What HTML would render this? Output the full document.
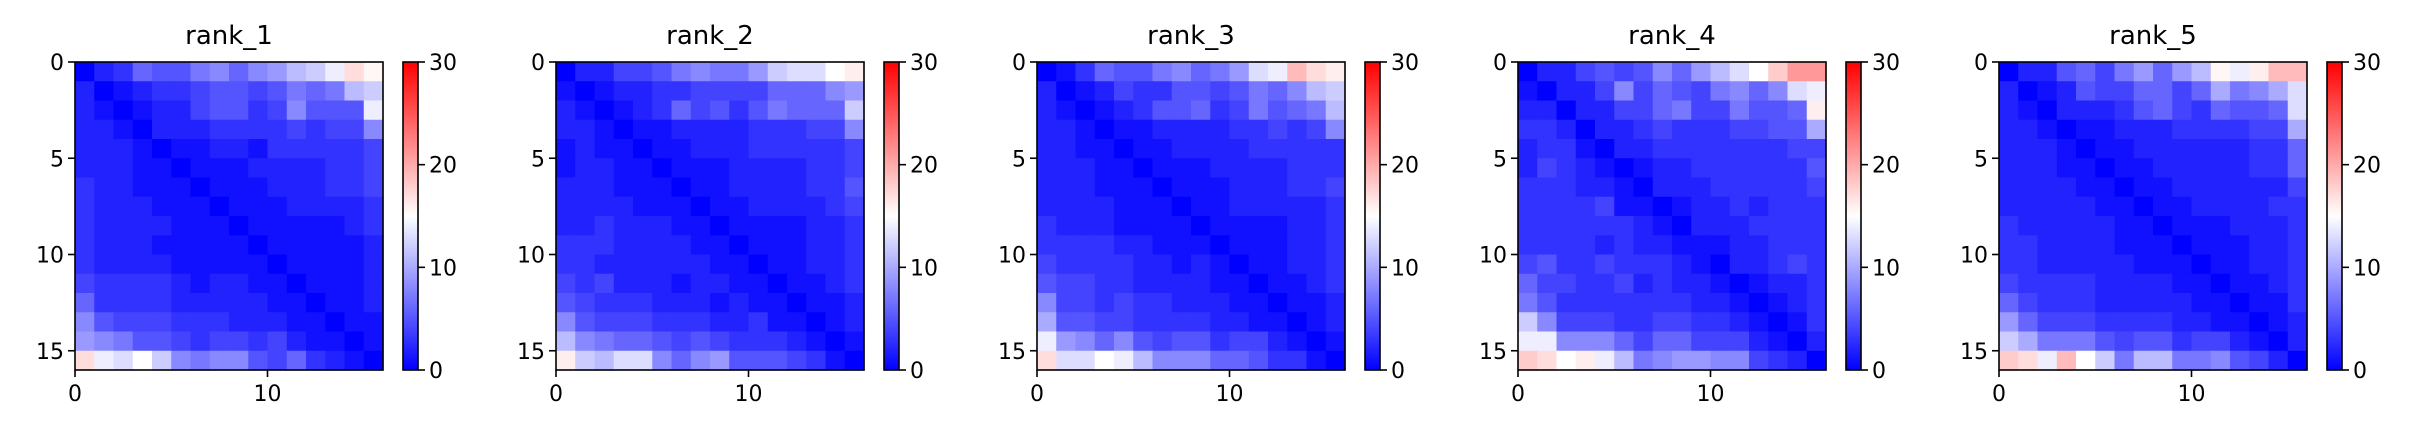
<!DOCTYPE html>
<html><head><meta charset="utf-8">
<style>
html,body{margin:0;padding:0;background:#fff;}
svg{display:block;font-family:"DejaVu Sans","Liberation Sans",sans-serif;}
</style></head>
<body>
<svg id="chart" width="2417" height="438" viewBox="0 0 2417 438" xmlns="http://www.w3.org/2000/svg"></svg>
<script>
const titles = ["rank_1","rank_2","rank_3","rank_4","rank_5"];
const axisTicks = [0,5,10,15];
const xTicks = [0,10];
const cbarTicks = [0,10,20,30];
const vmin = 0, vmax = 30, nCells = 16;
const rank1 = [
[0,2,3,6,5,5,7,8,6,8,9,11,12,14,17,15.5],
[2,0,1,2,3,3,4,5,5,4,5,7,6,7,11,12],
[2,1,0,1,2,2,4,5,5,3,4,8,5,5,5,14],
[2,2,1,0,2,2,2,3,3,3,3,4,3,4,4,8],
[2,2,2,1,0,1,1,2,2,1,3,3,3,3,3,4],
[2,2,2,1,1,0,1,1,1,2,2,2,2,3,3,4],
[3,2,2,1,1,1,0,1,1,1,2,2,2,3,3,4],
[3,2,2,2,1,1,1,0,1,1,1,2,2,2,2,3],
[3,2,2,2,2,1,1,1,0,1,1,1,1,1,2,3],
[3,2,2,2,1,1,1,1,1,0,1,1,1,1,1,2],
[3,2,2,2,2,1,1,1,1,1,0,1,1,1,1,2],
[4,3,3,3,3,2,1,2,2,1,1,0,1,1,1,2],
[6,3,3,3,3,2,2,2,2,2,1,1,0,1,1,2],
[8,5,4,4,4,3,3,3,2,2,2,1,1,0,1,1],
[9,8,7,5,5,4,3,4,4,3,4,2,1,1,0,1],
[17,14,13,15,12,8,7,8,8,5,4,6,3,2,1,0]];
const rank2 = [
[0,2,2,4,4,5,7,8,7,7,9,12,13,13,15,16],
[1,0,1,2,2,3,3,4,4,4,4,6,6,6,8,9],
[2,1,0,1,2,3,6,4,5,3,5,7,6,6,6,12],
[2,2,1,0,1,1,2,2,2,2,3,3,3,4,4,8],
[1,2,1,1,0,1,1,2,2,2,3,3,3,3,3,4],
[1,2,2,1,1,0,1,1,1,2,2,2,2,3,3,4],
[2,2,2,1,1,1,0,1,1,2,2,2,2,3,3,5],
[2,2,2,2,1,1,1,0,1,1,2,2,2,2,3,4],
[2,2,3,2,2,2,1,1,0,1,1,1,1,2,2,3],
[3,3,3,2,2,2,2,1,1,0,1,1,1,2,2,3],
[3,3,2,2,2,2,2,2,1,1,0,1,1,2,2,3],
[4,3,4,2,2,2,1,2,2,1,1,0,1,1,2,3],
[5,4,3,3,3,2,2,2,1,2,1,1,0,1,1,2],
[8,5,4,4,4,3,3,3,2,2,3,1,1,0,1,2],
[11,8,7,6,6,5,4,5,4,3,3,3,2,1,0,1],
[16,12,11,13,13,8,6,8,9,5,5,5,4,3,1,0]];
const rank3 = [
[0,1,3,6,5,5,7,8,6,7,9,13,14,19,17,16],
[2,0,1,2,4,3,3,5,5,4,5,7,6,8,11,12],
[2,1,0,1,2,3,5,5,6,3,4,7,5,6,7,11],
[2,2,1,0,1,1,2,2,2,2,3,3,4,3,4,8],
[2,2,1,1,0,1,1,2,2,2,2,3,3,3,3,3],
[2,2,2,1,1,0,1,1,1,2,2,2,2,3,3,3],
[2,2,2,1,1,1,0,1,1,1,2,2,2,3,3,4],
[2,2,2,2,1,1,1,0,1,1,2,2,2,2,2,3],
[3,2,2,2,1,1,1,1,0,1,1,1,1,2,2,3],
[3,3,3,3,2,2,1,1,1,0,1,1,1,2,2,3],
[4,3,3,3,3,2,2,1,2,1,0,1,1,2,2,3],
[5,4,4,3,3,2,2,2,2,1,1,0,1,1,2,3],
[8,4,4,3,4,3,3,2,2,2,1,1,0,1,1,2],
[10,5,5,4,4,3,3,3,3,2,2,1,1,0,1,2],
[14,9,8,6,8,5,4,5,5,3,4,4,2,1,0,1],
[17,13,13,15,14,11,8,8,8,6,6,5,3,3,1,0]];
const rank4 = [
[0,2,2,4,5,4,5,8,6,9,11,13,15,18,21,21],
[1,0,2,2,4,8,4,6,5,4,7,8,6,8,13,14],
[2,2,0,2,2,4,4,6,7,4,4,7,5,5,6,16],
[3,3,2,0,2,2,3,4,3,3,3,4,4,5,5,10],
[2,3,3,1,0,2,2,3,3,3,3,3,3,3,4,4],
[2,4,3,2,1,0,1,2,2,3,3,3,3,3,3,5],
[3,3,3,2,2,1,0,2,2,2,3,3,3,3,3,4],
[3,3,3,3,4,1,1,0,1,2,2,3,2,3,3,3],
[3,3,3,3,3,3,2,1,0,2,2,2,3,3,3,3],
[3,3,3,3,2,3,2,2,1,1,1,2,2,3,3,3],
[4,5,3,3,4,3,3,3,2,1,0,2,2,3,4,3],
[6,4,4,3,3,4,2,3,2,2,1,0,1,2,2,3],
[7,5,3,3,3,3,3,3,3,2,2,1,0,1,2,3],
[12,8,4,4,4,3,3,4,4,3,3,2,1,0,1,3],
[14,14,8,8,8,6,4,6,6,4,4,4,2,1,0,2],
[18,17,15,16,14,11,7,8,9,9,8,8,4,3,2,0]];
const rank5 = [
[0,2,2,5,6,4,7,9,6,9,11,15.5,14,16,19,19],
[2,0,1,2,5,4,4,6,6,4,6,10,7,8,10,13],
[2,1,0,2,2,2,3,5,6,4,3,6,5,5,6,13],
[2,2,1,0,1,1,2,2,2,3,3,3,3,4,4,10],
[2,2,2,1,0,1,1,2,2,2,2,2,2,3,3,6],
[2,2,2,1,1,0,1,1,2,2,2,2,2,3,3,6],
[2,2,2,2,1,1,0,1,1,2,2,2,2,2,2,4],
[2,2,2,2,2,1,1,0,1,1,2,2,2,2,3,3],
[3,2,2,2,2,2,1,1,0,1,1,1,2,2,2,3],
[3,3,2,2,2,2,1,1,1,0,1,1,1,2,2,3],
[3,3,2,2,2,2,2,1,1,1,0,1,1,2,2,3],
[4,3,3,3,3,2,2,2,2,1,1,0,1,1,2,3],
[6,4,3,3,3,2,2,2,2,2,1,1,0,1,1,3],
[9,6,4,4,4,3,3,3,3,2,2,1,1,0,1,2],
[12,10,7,7,7,5,4,5,5,3,4,4,2,1,0,2],
[18,17,14,19,15,12,7,11,11,7,7,8,5,4,2,0]];
const matrices = [rank1,rank2,rank3,rank4,rank5];

const NS = "http://www.w3.org/2000/svg";
const svg = document.getElementById("chart");
const panelLeft = [75,556,1037,1518,1999];
const top0 = 62, size = 308, cbOff = 328, cbW = 15;

function bwr(v){
  let t = Math.max(0, Math.min(1, (v - vmin) / (vmax - vmin)));
  let r,g,b;
  if (t < 0.5){ const s = t/0.5; r = g = Math.round(s*255); b = 255; }
  else { const s = (t-0.5)/0.5; r = 255; g = b = Math.round((1-s)*255); }
  return `rgb(${r},${g},${b})`;
}
function mk(tag, attrs, parent){
  const e = document.createElementNS(NS, tag);
  for (const k in attrs) e.setAttribute(k, attrs[k]);
  parent.appendChild(e);
  return e;
}
const defs = mk("defs", {}, svg);
const grad = mk("linearGradient", {id:"bwr", x1:"0", y1:"1", x2:"0", y2:"0"}, defs);
for (let i=0;i<=10;i++){
  mk("stop", {offset:(i/10), "stop-color":bwr(vmin + (vmax-vmin)*i/10)}, grad);
}

matrices.forEach((m, p) => {
  const L = panelLeft[p];
  const cell = size / nCells;
  const xScale = v => L + v * cell;
  const yScale = v => top0 + v * cell;
  const g = mk("g", {}, svg);
  
  

  const t = mk("text", {x: L + size/2, y: 44, "text-anchor":"middle", "font-size":"26"}, g);
  t.textContent = titles[p];
  
  

  m.forEach((row, r) => row.forEach((v, c) => {
    const rc = mk("rect", {x: xScale(c), y: yScale(r), width: cell+0.6, height: cell+0.6, fill: bwr(v)}, g);
    
    
  }));
  const frame = mk("rect", {x:L, y:top0, width:size, height:size, fill:"none", stroke:"#000", "stroke-width":"1.6"}, g);
  
  

  axisTicks.forEach(tv => {
    const y = yScale(tv);
    mk("line", {x1:L-7, x2:L, y1:y, y2:y, stroke:"#000", "stroke-width":"1.6"}, g);
    const lb = mk("text", {x:L-11, y:y+8, "text-anchor":"end", "font-size":"22"}, g);
    lb.textContent = tv;
    
    
  });
  xTicks.forEach(tv => {
    const x = xScale(tv);
    mk("line", {x1:x, x2:x, y1:top0+size, y2:top0+size+7, stroke:"#000", "stroke-width":"1.6"}, g);
    const lb = mk("text", {x:x, y:top0+size+31, "text-anchor":"middle", "font-size":"22"}, g);
    lb.textContent = tv;
    
    
  });

  const cbX = L + cbOff;
  const cb = mk("rect", {x:cbX, y:top0, width:cbW, height:size, fill:"url(#bwr)", stroke:"#000", "stroke-width":"1.6"}, g);
  
  
  cbarTicks.forEach(tv => {
    const y = top0 + size - (tv - vmin)/(vmax - vmin) * size;
    mk("line", {x1:cbX+cbW, x2:cbX+cbW+7, y1:y, y2:y, stroke:"#000", "stroke-width":"1.6"}, g);
    const lb = mk("text", {x:cbX+cbW+11, y:y+8, "font-size":"22"}, g);
    lb.textContent = tv;
    
    
  });
});
</script>
</body></html>
